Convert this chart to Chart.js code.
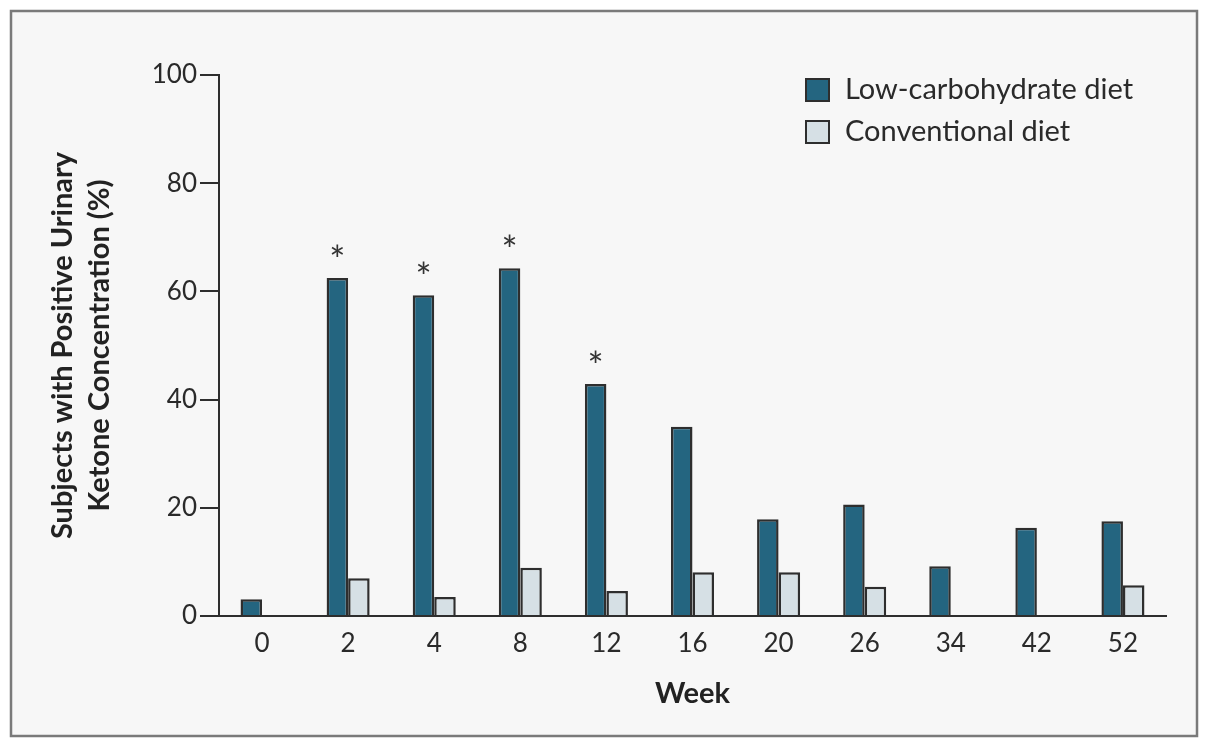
<!DOCTYPE html>
<html>
<head>
<meta charset="utf-8">
<title>Urinary ketones</title>
<script src="https://cdn.jsdelivr.net/npm/chart.js@4"></script>
<style>
  body { margin: 0; background: #fff; }
  canvas { display: block; }
</style>
</head>
<body>
<canvas id="myChart" width="1205" height="740"></canvas>
<script>
// -- ** data ** -- \\
const weeks = ['0', '2', '4', '8', '12', '16', '20', '26', '34', '42', '52'];
const lowCarb = [3.1, 62.5, 59.3, 64.3, 42.9, 35, 17.9, 20.6, 9.2, 16.3, 17.5];
const conventional = [0, 7.0, 3.5, 8.9, 4.6, 8.1, 8.1, 5.4, 0, 0, 5.7];
const significant = [false, true, true, true, true, false, false, false, false, false, false];
const yTicks = [0, 20, 40, 60, 80, 100];

const darkColor = '#246580';
const lightColor = '#d6e0e5';
const lineColor = '#2e2e2e';
const fontName = 'Lato';

// -- ** frame behind chart ** -- \\
const framePlugin = {
  id: 'frame',
  beforeDraw(chart) {
    const ctx = chart.ctx;
    ctx.save();
    ctx.fillStyle = '#ffffff';
    ctx.fillRect(0, 0, chart.width, chart.height);
    ctx.fillStyle = '#f7f7f7';
    ctx.fillRect(11, 11, 1186, 725);
    ctx.strokeStyle = '#7a7a7a';
    ctx.lineWidth = 2.5;
    ctx.strokeRect(11, 11, 1186, 725);
    ctx.restore();
  }
};

// -- ** asterisks + legend ** -- \\
const extrasPlugin = {
  id: 'extras',
  afterDatasetsDraw(chart) {
    const ctx = chart.ctx;
    const meta = chart.getDatasetMeta(0);
    ctx.save();
    ctx.fillStyle = '#333';
    ctx.font = '38px ' + fontName;
    ctx.textAlign = 'center';
    ctx.textBaseline = 'alphabetic';
    meta.data.forEach((bar, i) => {
      if (significant[i]) {
        ctx.fillText('*', bar.x, bar.y - 4);
      }
    });

    // legend
    const items = [
      { label: chart.data.datasets[0].label, color: darkColor, y: 90 },
      { label: chart.data.datasets[1].label, color: lightColor, y: 132 }
    ];
    ctx.font = '29px ' + fontName;
    ctx.textAlign = 'left';
    ctx.textBaseline = 'middle';
    items.forEach((it) => {
      ctx.fillStyle = it.color;
      ctx.fillRect(806, it.y - 11, 23, 22);
      ctx.strokeStyle = lineColor;
      ctx.lineWidth = 2;
      ctx.strokeRect(806, it.y - 11, 23, 22);
      ctx.fillStyle = '#2a2a2a';
      ctx.fillText(it.label, 845, it.y);
    });
    ctx.restore();
  }
};

const config = {
  type: 'bar',
  data: {
    labels: weeks,
    datasets: [
      {
        label: 'Low-carbohydrate diet',
        data: lowCarb,
        backgroundColor: darkColor,
        borderColor: lineColor,
        borderWidth: 2.5,
        categoryPercentage: 0.5,
        barPercentage: 1.0
      },
      {
        label: 'Conventional diet',
        data: conventional,
        backgroundColor: lightColor,
        borderColor: lineColor,
        borderWidth: 2.5,
        categoryPercentage: 0.5,
        barPercentage: 1.0
      }
    ]
  },
  options: {
    responsive: false,
    animation: false,
    layout: { padding: { top: 75, right: 39, left: 0, bottom: 0 } },
    plugins: {
      legend: { display: false },
      tooltip: { enabled: false }
    },
    scales: {
      x: {
        grid: { display: false, drawTicks: false },
        border: { display: true, color: lineColor, width: 2 },
        ticks: {
          color: '#2a2a2a',
          font: { family: fontName, size: 26 },
          padding: 12
        },
        title: {
          display: true,
          text: 'Week',
          color: '#222',
          font: { family: fontName, size: 29, weight: 'bold', lineHeight: 1.2 },
          padding: { top: 0, bottom: 29 }
        },
        afterFit(scale) { scale.height = 124; }
      },
      y: {
        min: 0,
        max: 100,
        afterBuildTicks(scale) {
          scale.ticks = yTicks.map((v) => ({ value: v }));
        },
        grid: {
          display: true,
          drawOnChartArea: false,
          drawTicks: true,
          tickLength: 19,
          color: lineColor,
          lineWidth: 2
        },
        border: { display: true, color: lineColor, width: 2 },
        ticks: {
          color: '#2a2a2a',
          font: { family: fontName, size: 26 },
          padding: 3
        },
        title: {
          display: true,
          text: ['Subjects with Positive Urinary', 'Ketone Concentration (%)'],
          color: '#222',
          font: { family: fontName, size: 29, weight: 'bold', lineHeight: 1.276 },
          padding: { top: 44, bottom: 0 }
        },
        afterFit(scale) { scale.width = 219; }
      }
    }
  },
  plugins: [framePlugin, extrasPlugin]
};

window.myChart = new Chart(document.getElementById('myChart'), config);
</script>
</body>
</html>
